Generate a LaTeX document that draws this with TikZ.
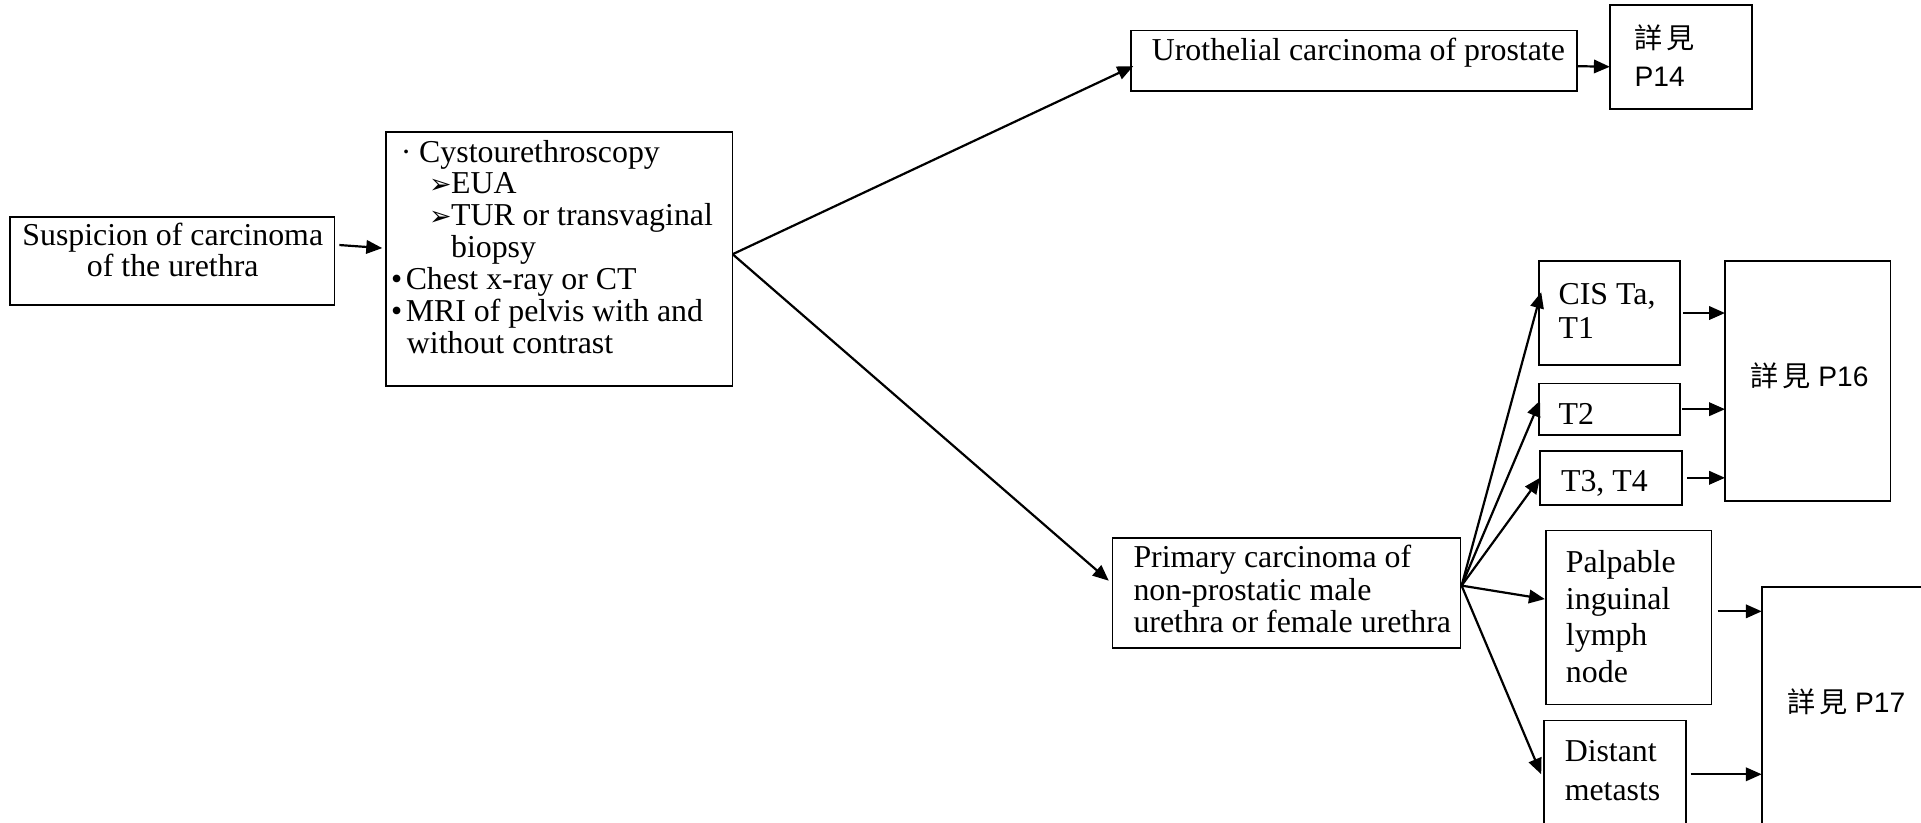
\documentclass[tikz,border=0pt]{standalone}
\usepackage{fontspec}
\setmainfont{Liberation Serif}
\newfontfamily\cjkfont{Noto Sans CJK TC}
\newfontfamily\sansfont{Liberation Sans}
\newfontfamily\dingfont{DejaVu Sans}
\usetikzlibrary{arrows.meta}
\newcommand{\subarrow}{{\dingfont\fontsize{22}{22}\selectfont ➢}}
\newcommand{\seeword}{{\cjkfont 詳\kern3pt 見}}
\newcommand{\seepage}[1]{\seeword\ #1}
\begin{document}
\begin{tikzpicture}[x=1pt,y=-1pt,
  box/.style={draw, line width=1.4pt, anchor=north west, inner sep=0pt, outer sep=0pt},
  txt/.style={inner sep=0pt, anchor=north west, align=left, font=\fontsize{26}{26}\selectfont},
  sanstxt/.style={inner sep=0pt, align=left, font=\sansfont\fontsize{23}{31}\selectfont},
  conn/.style={line width=1.8pt, -{Triangle[length=13pt,width=11pt]}}]
\useasboundingbox (0,0) rectangle (1568,671);
\clip (0,0) rectangle (1568,671);

% boxes
\node[box, minimum width=265pt, minimum height=72pt]  (b1)   at (8,177)    {};
\node[box, minimum width=283pt, minimum height=207pt] (b2)   at (315,108)  {};
\node[box, minimum width=364pt, minimum height=49pt]  (uro)  at (923,25)   {};
\node[box, minimum width=116pt, minimum height=85pt]  (p14)  at (1314,4)   {};
\node[box, minimum width=284pt, minimum height=90pt]  (prim) at (908,439)  {};
\node[box, minimum width=115pt, minimum height=85pt]  (cis)  at (1256,213) {};
\node[box, minimum width=115pt, minimum height=42pt]  (t2)   at (1256,313) {};
\node[box, minimum width=116pt, minimum height=44pt]  (t3)   at (1257,368) {};
\node[box, minimum width=135pt, minimum height=196pt] (p16)  at (1408,213) {};
\node[box, minimum width=135pt, minimum height=142pt] (palp) at (1262,433) {};
\node[box, minimum width=116pt, minimum height=88pt]  (dist) at (1260,588) {};
\node[box, minimum width=170pt, minimum height=230pt] (p17)  at (1438,479) {};

% box texts
\node[txt, anchor=north, align=center, font=\fontsize{26}{25}\selectfont] (tb1) at (141,182)
  {Suspicion of carcinoma\\of the urethra};
\node[txt] (tb2) at (319,114)
  {\hspace*{8pt}\makebox[15pt][l]{·}Cystourethroscopy\\
   \hspace*{31pt}\makebox[18pt][l]{\subarrow}EUA\\
   \hspace*{31pt}\makebox[18pt][l]{\subarrow}TUR or transvaginal\\
   \hspace*{49pt}biopsy\\
   \makebox[12pt][l]{•}Chest x-ray or CT\\
   \makebox[12pt][l]{•}MRI of pelvis with and\\
   \hspace*{13pt}without contrast};
\node[txt] (turo) at (940,31) {Urothelial carcinoma of prostate};
\node[sanstxt, anchor=north west] (tp14) at (1334,20) {\seeword\\P14};
\node[txt, font=\fontsize{26}{26.5}\selectfont] (tprim) at (925,445)
  {Primary carcinoma of\\non-prostatic male\\urethra or female urethra};
\node[txt, font=\fontsize{26}{28}\selectfont] (tcis) at (1272,231) {CIS Ta,\\T1};
\node[txt] (tt2) at (1272,329) {T2};
\node[txt] (tt3) at (1274,384) {T3, T4};
\node[sanstxt] (tp16) at (1477,307) {\seepage{P16}};
\node[txt, font=\fontsize{26}{30}\selectfont] (tpalp) at (1278,449)
  {Palpable\\inguinal\\lymph\\node};
\node[txt, font=\fontsize{26}{32}\selectfont] (tdist) at (1277,604) {Distant\\metasts};
\node[sanstxt] (tp17) at (1507,573) {\seepage{P17}};

% connectors
\draw[conn] ([xshift=4pt,yshift=13pt]b1.east) -- ([xshift=-3pt,yshift=9pt]b2.west);
\coordinate (split) at ([yshift=4pt]b2.east);
\draw[conn] (split) -- ([xshift=2pt,yshift=-4.5pt]uro.west);
\draw[conn] (split) -- ([xshift=-3pt,yshift=10pt]prim.west);
\draw[conn] ([yshift=-4.5pt]uro.east) -- ([yshift=-8pt]p14.west);

\coordinate (fan) at ([xshift=1pt,yshift=6pt]prim.east);
\draw[conn] (fan) -- ([xshift=2pt,yshift=17pt]cis.west);
\draw[conn] (fan) -- ([xshift=1pt,yshift=7pt]t2.west);
\draw[conn] (fan) -- (t3.west);
\draw[conn] (fan) -- ([xshift=-1pt,yshift=15pt]palp.west);
\draw[conn] (fan) -- ([xshift=-2pt]dist.west);

\draw[conn] ([xshift=3pt]cis.east) -- (cis.east -| p16.west);
\draw[conn] ([xshift=2pt]t2.east) -- (t2.east -| p16.west);
\draw[conn] ([xshift=4pt]t3.east) -- (t3.east -| p16.west);
\draw[conn] ([xshift=5pt,yshift=5pt]palp.east) -- ([yshift=5pt]palp.east -| p17.west);
\draw[conn] ([xshift=4pt]dist.east) -- (dist.east -| p17.west);
\end{tikzpicture}
\end{document}
